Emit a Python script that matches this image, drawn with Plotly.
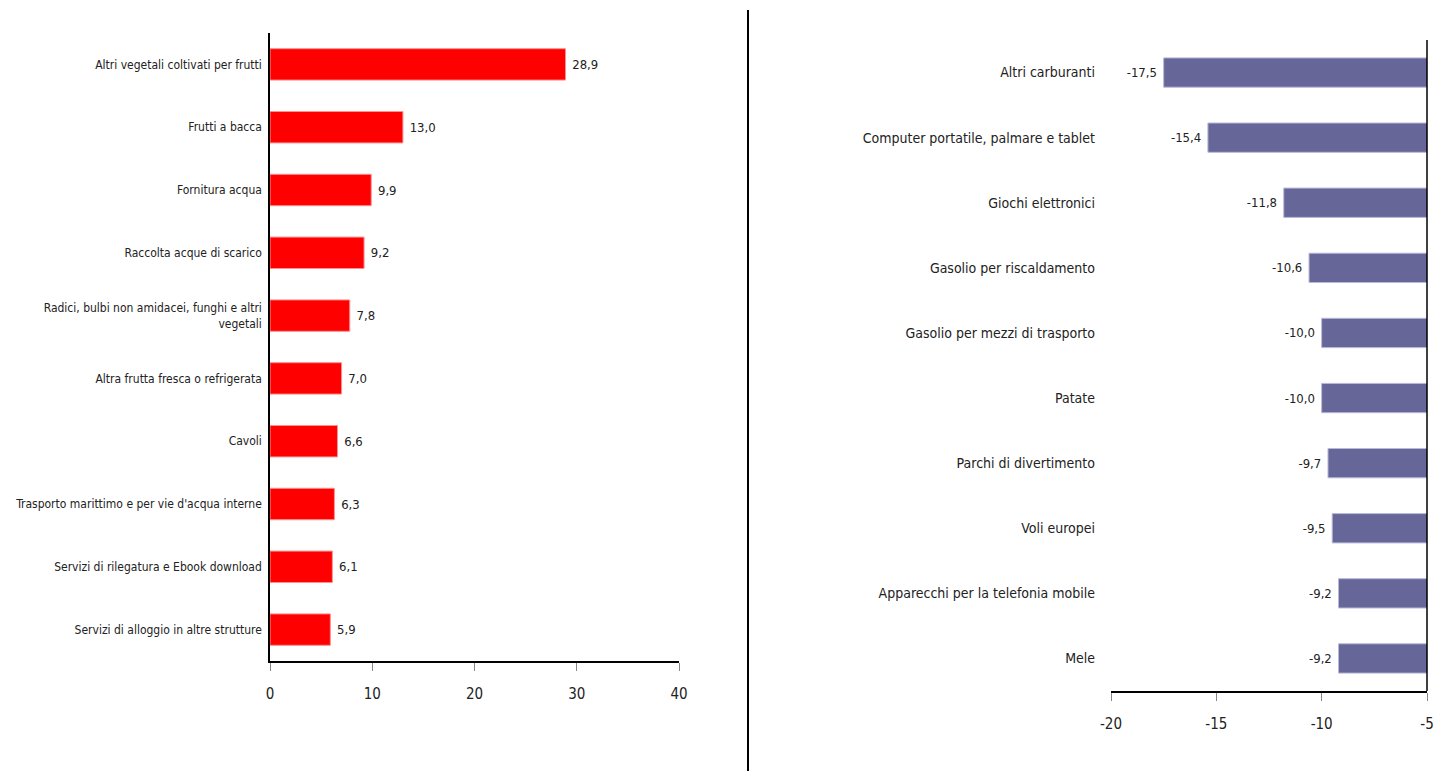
import plotly.graph_objects as go

left_cats = ["Altri vegetali coltivati per frutti", "Frutti a bacca", "Fornitura acqua",
             "Raccolta acque di scarico", "Radici, bulbi non amidacei, funghi e altri<br>vegetali",
             "Altra frutta fresca o refrigerata", "Cavoli",
             "Trasporto marittimo e per vie d'acqua interne",
             "Servizi di rilegatura e Ebook download", "Servizi di alloggio in altre strutture"]
left_vals = [28.9, 13.0, 9.9, 9.2, 7.8, 7.0, 6.6, 6.3, 6.1, 5.9]
left_ticks = [0, 10, 20, 30, 40]
left_ticktext = ["0", "10", "20", "30", "40"]

right_cats = ["Altri carburanti", "Computer portatile, palmare e tablet", "Giochi elettronici",
              "Gasolio per riscaldamento", "Gasolio per mezzi di trasporto", "Patate",
              "Parchi di divertimento", "Voli europei", "Apparecchi per la telefonia mobile", "Mele"]
right_vals = [-17.5, -15.4, -11.8, -10.6, -10.0, -10.0, -9.7, -9.5, -9.2, -9.2]
right_ticks = [-20, -15, -10, -5]
right_ticktext = ["-20", "-15", "-10", "-5"]

FONT = "DejaVu Sans Condensed, Liberation Sans Narrow, sans-serif"
NB = "\u00a0"
W, H = 1436, 771

def fmt(v):
    return f"{v:.1f}".replace(".", ",")

fig = go.Figure()
fig.add_trace(go.Bar(
    y=left_cats, x=left_vals, orientation="h", xaxis="x", yaxis="y",
    marker=dict(color="#FF0000", line=dict(color="#FF9090", width=1)),
    width=0.5, text=[NB + fmt(v) for v in left_vals], textposition="outside",
    textfont=dict(size=13, color="#222222", family=FONT), cliponaxis=False,
))
fig.add_trace(go.Bar(
    y=right_cats, x=right_vals, orientation="h", xaxis="x2", yaxis="y2",
    marker=dict(color="#666699", line=dict(color="#B8B8D8", width=1)),
    width=0.45, text=[fmt(v) + NB for v in right_vals], textposition="outside",
    textfont=dict(size=13, color="#222222", family=FONT), cliponaxis=True,
))

fig.update_layout(
    width=W, height=H,
    margin=dict(l=0, r=0, t=0, b=0),
    paper_bgcolor="white", plot_bgcolor="white",
    showlegend=False,
    font=dict(family=FONT, color="#222222"),
    xaxis=dict(domain=[270/W, 679/W], range=[0, 40], automargin=False,
               tickmode="array", tickvals=left_ticks, ticktext=left_ticktext,
               showgrid=False, zeroline=False, showline=True, linecolor="black", linewidth=1.5,
               ticks="outside", ticklen=8, tickcolor="#888888", anchor="y",
               ticklabelstandoff=10, tickfont=dict(size=15, family=FONT)),
    yaxis=dict(domain=[1-661/H, 1-33/H], autorange="reversed", anchor="x", automargin=False,
               showgrid=False, showline=True, linecolor="black", linewidth=1.5,
               ticks="", ticklabelstandoff=4, tickfont=dict(size=12, family=FONT)),
    xaxis2=dict(domain=[1111/W, 1427/W], range=[-20, -5], automargin=False,
                tickmode="array", tickvals=right_ticks, ticktext=right_ticktext,
                showgrid=False, zeroline=False, showline=True, linecolor="black", linewidth=1.5,
                ticks="outside", ticklen=8, tickcolor="#888888", anchor="y2",
                ticklabelstandoff=10, ticklabeloverflow="allow",
                tickfont=dict(size=15, family=FONT)),
    yaxis2=dict(domain=[1-691/H, 1-40/H], autorange="reversed", anchor="x2", automargin=False,
                showgrid=False, showline=False, ticks="", ticklabelstandoff=15,
                tickfont=dict(size=14, family=FONT)),
    shapes=[
        dict(type="line", xref="paper", yref="paper", x0=748/W, x1=748/W,
             y0=0, y1=1-10/H, line=dict(color="black", width=2)),
        dict(type="line", xref="x2 domain", yref="y2 domain", x0=1, x1=1, y0=0, y1=1,
             line=dict(color="black", width=1.5)),
    ],
)

fig.write_html("out.html", config={"displayModeBar": False},
               post_script="document.body.style.margin='0px';document.body.style.overflow='hidden';")
